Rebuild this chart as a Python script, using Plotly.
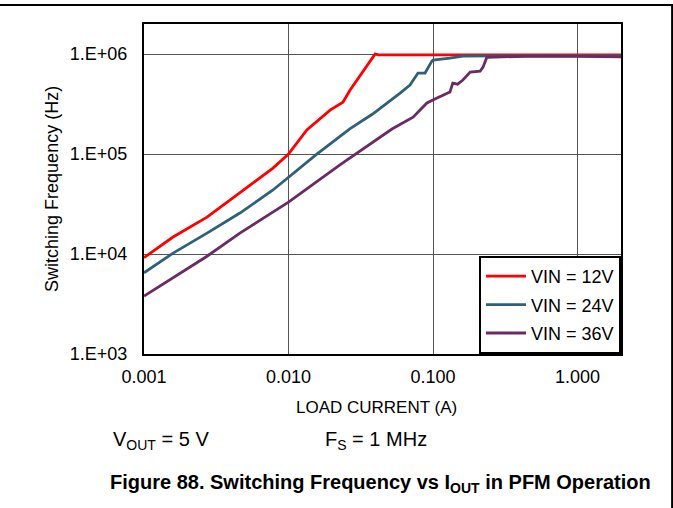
import plotly.graph_objects as go

# ---- data ----
x_12 = [0.001, 0.00159, 0.00273, 0.00461, 0.00781, 0.01, 0.0134, 0.0194, 0.0238, 0.0267,
        0.0397, 0.042, 0.06, 0.1, 0.2, 0.5, 1.0, 2.0]
y_12 = [9.2e3, 1.48e4, 2.34e4, 4.07e4, 7.24e4, 1.0e5, 1.74e5, 2.75e5, 3.3e5, 4.37e5,
        1.0e6, 9.8e5, 9.8e5, 9.8e5, 9.8e5, 9.8e5, 9.8e5, 9.8e5]

x_24 = [0.001, 0.00159, 0.00273, 0.00461, 0.00781, 0.01, 0.0157, 0.0267, 0.038, 0.0592,
        0.0693, 0.0787, 0.0881, 0.0983, 0.1, 0.131, 0.147, 0.161, 0.3, 1.0, 2.0]
y_24 = [6.5e3, 1.02e4, 1.62e4, 2.57e4, 4.37e4, 5.9e4, 1.0e5, 1.8e5, 2.5e5, 4.07e5,
        4.9e5, 6.46e5, 6.46e5, 8.5e5, 8.7e5, 9.1e5, 9.3e5, 9.55e5, 9.6e5, 9.6e5, 9.6e5]

x_36 = [0.001, 0.00159, 0.00273, 0.00461, 0.00781, 0.01, 0.0227, 0.052, 0.0728, 0.0908,
        0.1066, 0.125, 0.131, 0.137, 0.148, 0.161, 0.181, 0.212, 0.222, 0.236, 0.5, 1.0, 2.0]
y_36 = [3.8e3, 5.75e3, 9.5e3, 1.62e4, 2.63e4, 3.3e4, 7.8e4, 1.78e5, 2.34e5, 3.24e5,
        3.63e5, 4.07e5, 4.17e5, 5.13e5, 5.0e5, 5.5e5, 6.6e5, 6.76e5, 7.4e5, 9.3e5, 9.55e5, 9.5e5, 9.4e5]

series_names = ["VIN = 12V", "VIN = 24V", "VIN = 36V"]
series_colors = ["#FF0000", "#2E6179", "#6A2A62"]

x_tickvals = [0.001, 0.01, 0.1, 1.0]
x_ticktext = ["0.001", "0.010", "0.100", "1.000"]
y_tickvals = [1e3, 1e4, 1e5, 1e6]
y_ticktext = ["1.E+03", "1.E+04", "1.E+05", "1.E+06"]

FONT = "Liberation Sans, Arial, sans-serif"

fig = go.Figure()
for i, (xs, ys) in enumerate([(x_12, y_12), (x_24, y_24), (x_36, y_36)]):
    fig.add_trace(go.Scatter(
        x=xs, y=ys, mode="lines", name=series_names[i],
        legendgroup=f"g{i}",
        line=dict(color=series_colors[i], width=2.8),
    ))

fig.update_layout(
    width=673, height=508,
    margin=dict(l=144, r=52, t=24, b=154),
    paper_bgcolor="white", plot_bgcolor="white",
    font=dict(family=FONT, size=17, color="black"),
    showlegend=True,
    legend=dict(
        x=1, y=0, xanchor="right", yanchor="bottom",
        bgcolor="white", bordercolor="black", borderwidth=2,
        font=dict(size=18), tracegroupgap=2,
        itemwidth=40,
    ),
    xaxis=dict(
        type="log", range=[-3, 0.30103],
        tickvals=x_tickvals, ticktext=x_ticktext,
        tickfont=dict(size=18),
        showgrid=True, gridcolor="#555555", gridwidth=1,
        showline=True, linecolor="black", linewidth=2, mirror=True,
        ticks="", ticklabelstandoff=5, zeroline=False,
    ),
    yaxis=dict(
        type="log", range=[3, 6.30103],
        tickvals=y_tickvals, ticktext=y_ticktext,
        tickfont=dict(size=18),
        showgrid=True, gridcolor="#555555", gridwidth=1,
        showline=True, linecolor="black", linewidth=2, mirror=True,
        ticks="", ticklabelstandoff=11, zeroline=False,
    ),
)

annotations = [
    dict(text="LOAD CURRENT (A)", x=0.487, y=-0.1636, font=dict(size=17)),
    dict(text="Switching Frequency (Hz)", x=-0.193, y=0.5, textangle=-90, font=dict(size=18)),
    dict(text="V<sub>OUT</sub> = 5 V", x=0.036, y=-0.261, font=dict(size=20)),
    dict(text="F<sub>S</sub> = 1 MHz", x=0.487, y=-0.261, font=dict(size=20)),
    dict(text="<b>Figure 88. Switching Frequency vs I<sub>OUT</sub> in PFM Operation</b>",
         x=0.496, y=-0.391, font=dict(size=20)),
]
for a in annotations:
    fig.add_annotation(xref="paper", yref="paper", showarrow=False,
                       xanchor="center", yanchor="middle", **a)

# outer frame lines (top rule and right rule)
fig.add_shape(type="line", xref="paper", yref="paper", layer="above",
              x0=-144 / 476, x1=(673 - 144 + 4) / 476,
              y0=(354 - 5) / 330, y1=(354 - 5) / 330,
              line=dict(color="black", width=2))
fig.add_shape(type="line", xref="paper", yref="paper", layer="above",
              x0=(671 - 144) / 476, x1=(671 - 144) / 476,
              y0=(354 - 5) / 330, y1=(354 - 512) / 330,
              line=dict(color="black", width=2))

fig.write_html("out.html", config={"displayModeBar": False},
               post_script="document.body.style.margin='0px';document.body.style.padding='0px';")
